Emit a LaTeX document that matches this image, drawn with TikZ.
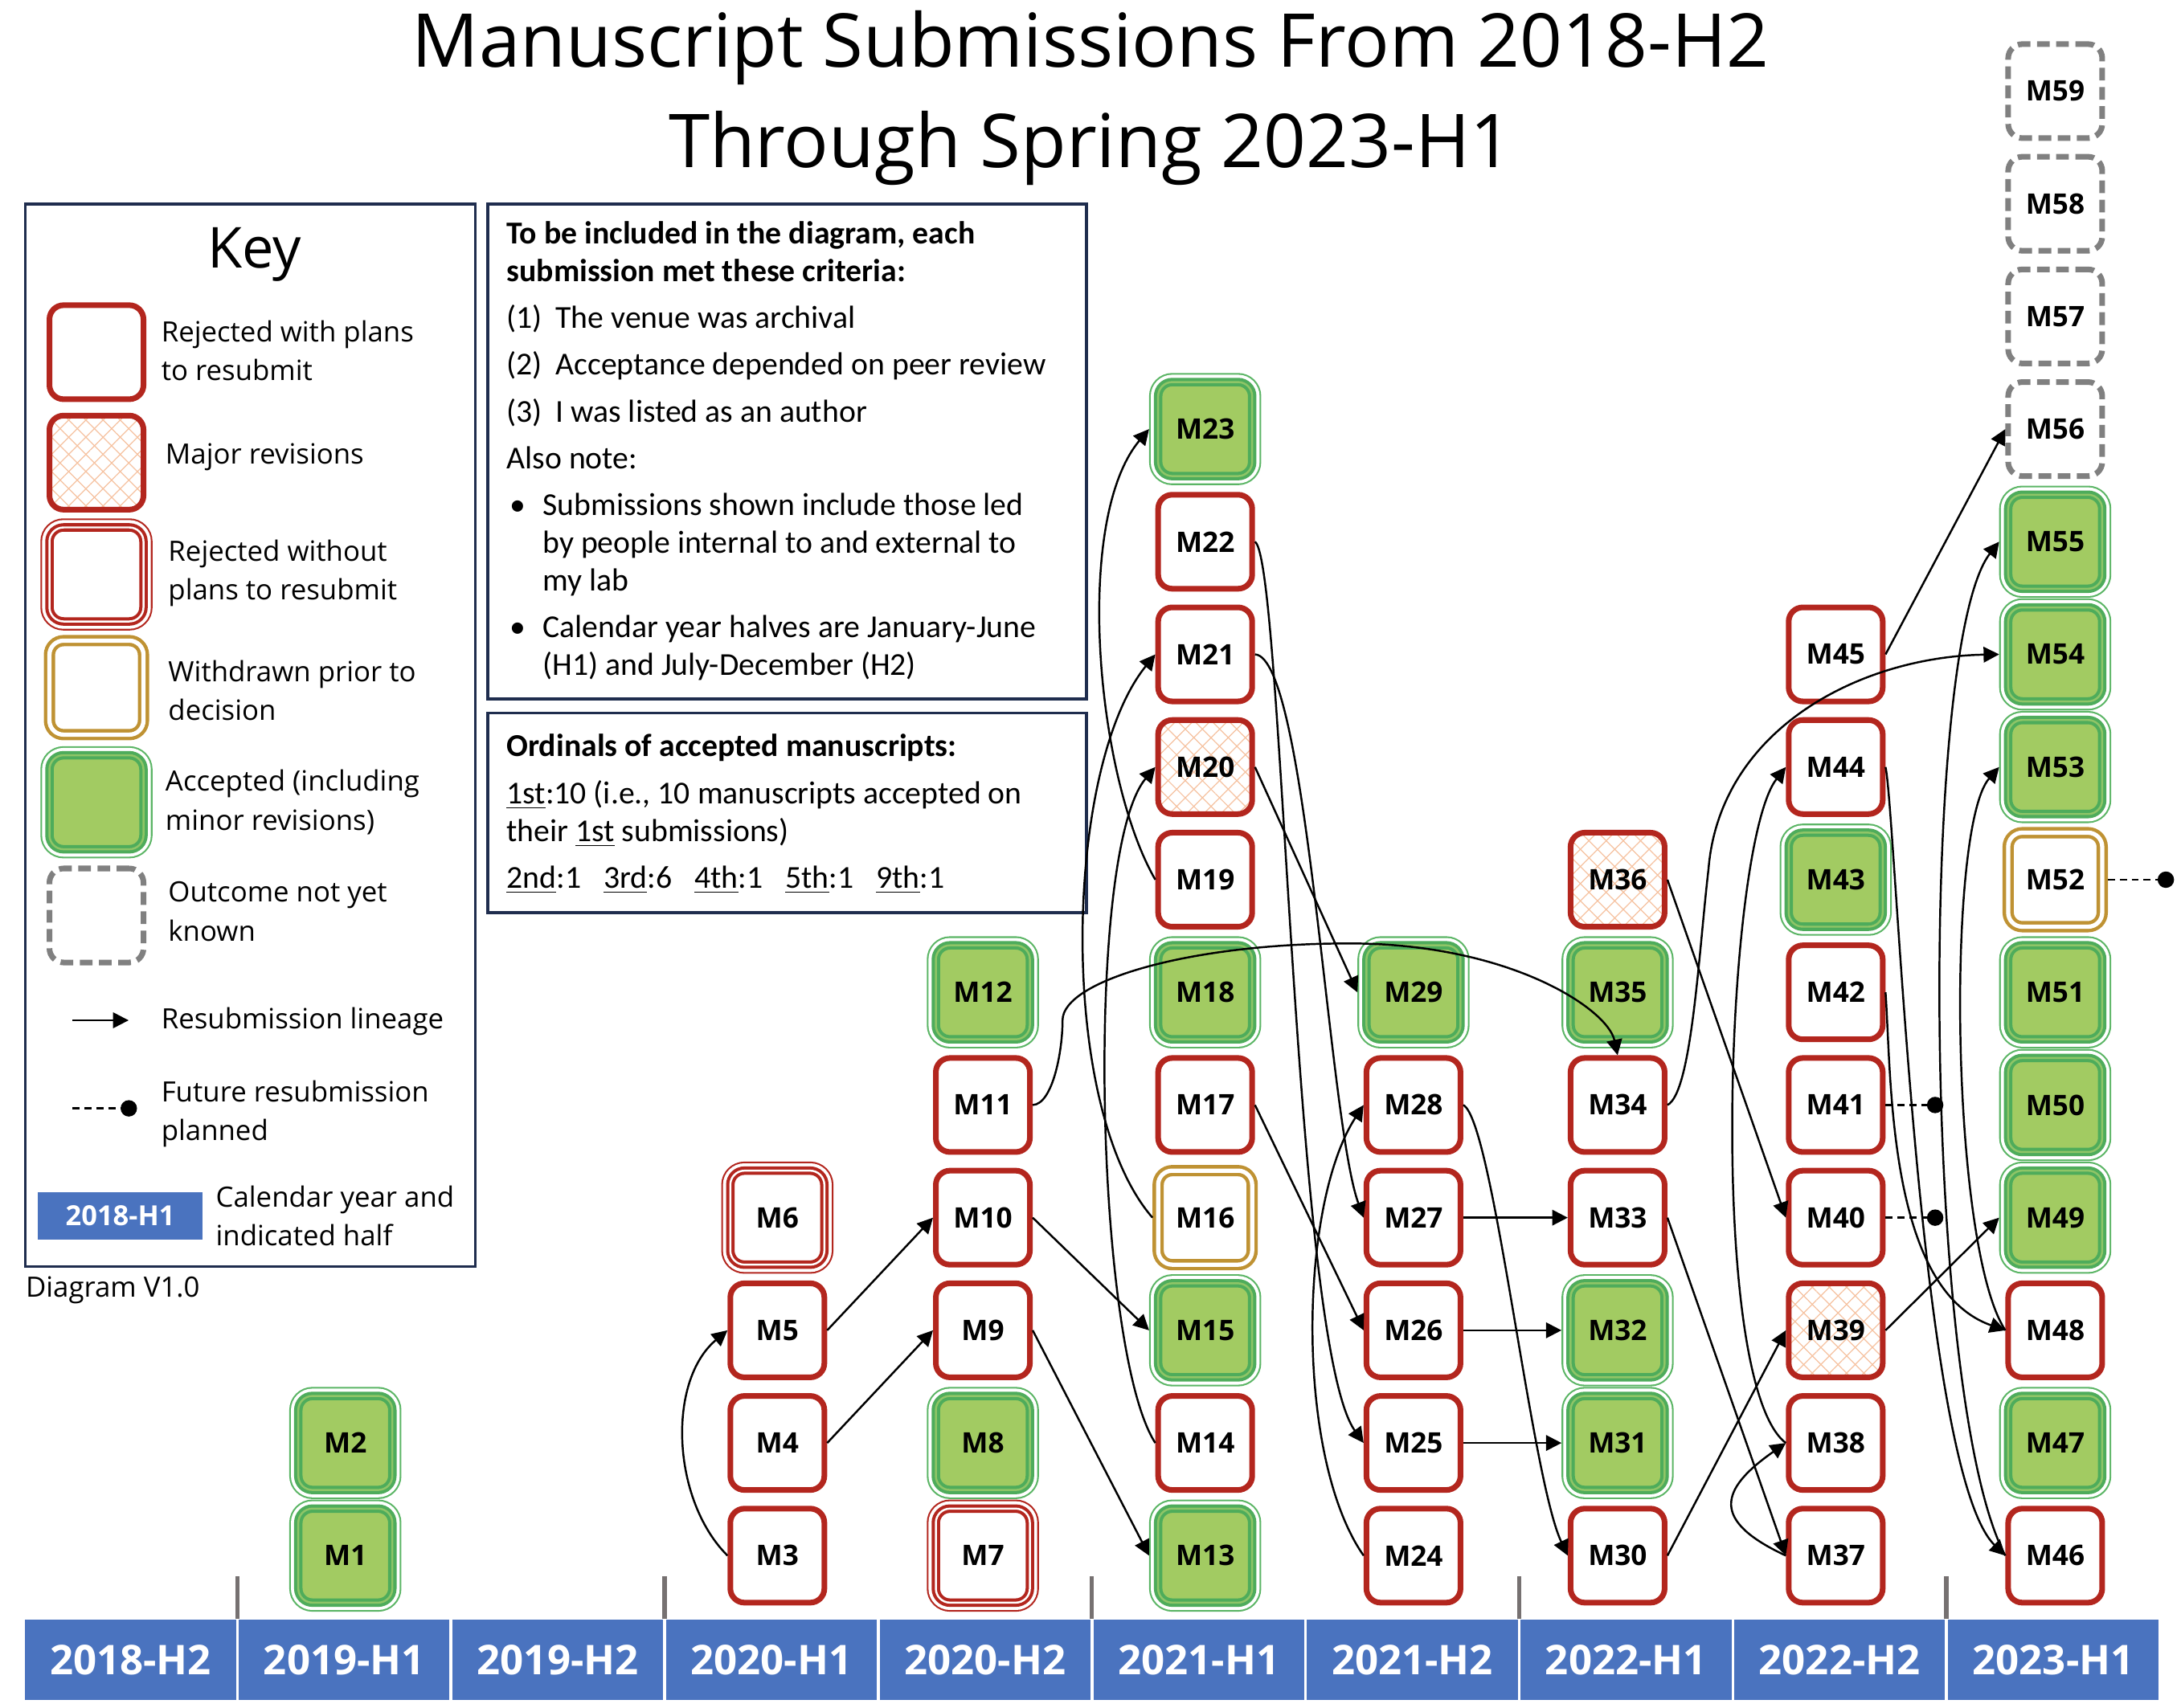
\documentclass[tikz,border=0pt]{standalone}
\usepackage{fontspec}
\setmainfont{Open Sans}
\newfontfamily\calib{Carlito}
\usetikzlibrary{arrows.meta,patterns.meta}
\definecolor{rejRed}{HTML}{B3261E}
\definecolor{accFill}{HTML}{A2CB62}
\definecolor{accBand}{HTML}{4EAC5B}
\definecolor{accEdge}{HTML}{5BB565}
\definecolor{accLine}{HTML}{8FC567}
\definecolor{wdGold}{HTML}{BF9233}
\definecolor{unkGray}{HTML}{808080}
\definecolor{majPeach}{HTML}{F6C2A0}
\definecolor{panelNavy}{HTML}{1F2D4E}
\definecolor{halfBlue}{HTML}{4A73BF}
\definecolor{tickGray}{HTML}{767171}
\newcommand{\msfont}{\bfseries\fontsize{10}{12}\selectfont}
\newcommand{\keyfont}{\fontsize{9.9}{13.8}\selectfont}
\newcommand{\critfont}{\calib\fontsize{11.3}{13.3}\selectfont}
\newcommand{\halffont}{\bfseries\fontsize{14.5}{17}\selectfont}
\tikzset{
	ms/.style={rounded corners=5pt, minimum width=1.17cm, minimum height=1.17cm, inner sep=0pt, font=\msfont},
	rej/.style={ms, fill=white, draw=rejRed, line width=2pt, outer sep=1pt},
	maj/.style={ms, draw=rejRed, line width=2pt, outer sep=1pt,
		preaction={fill=white},
		preaction={pattern={Lines[angle=45,distance=4.3pt,line width=0.35pt]}, pattern color=majPeach},
		preaction={pattern={Lines[angle=-45,distance=4.3pt,line width=0.35pt]}, pattern color=majPeach}},
	rejno/.style={ms, fill=white, draw=rejRed, line width=3pt, outer sep=3.2pt,
		preaction={draw=rejRed, line width=6.4pt},
		preaction={draw=white, line width=5.2pt},
		postaction={draw=white, line width=0.7pt}},
	wd/.style={ms, fill=white, draw=wdGold, line width=4pt, outer sep=2pt,
		postaction={draw=white, line width=1.5pt}},
	acc/.style={ms, fill=accFill, draw=accBand, line width=3pt, outer sep=3.2pt,
		preaction={draw=accEdge, line width=6.4pt},
		preaction={draw=white, line width=5.2pt},
		postaction={draw=accLine, line width=0.7pt}},
	unk/.style={ms, fill=white, draw=unkGray, line width=2pt, outer sep=1pt, dash pattern=on 4.5pt off 2.3pt},
	arr/.style={-{Triangle[length=5.5pt,width=5.5pt]}, line width=0.7pt},
	future/.style={dash pattern=on 2.5pt off 1.7pt, line width=0.7pt, -{Circle[length=5.8pt]}},
	half/.style={fill=halfBlue, draw=white, line width=1pt, text=white, inner sep=0pt, outer sep=0pt},
	tick/.style={draw=tickGray, line width=1.5pt},
	panel/.style={draw=panelNavy, line width=1pt, inner sep=0pt, anchor=north west},
	keytxt/.style={anchor=west, align=left, inner sep=0pt, font=\keyfont}
}
\begin{document}
\begin{tikzpicture}[x=0.017397cm, y=0.017397cm]
\useasboundingbox (0,0) rectangle (1560,1222);

% title
\node[align=center, font=\fontsize{26.3}{35.6}\selectfont] (title) at (780,1152) {Manuscript Submissions From 2018-H2\\Through Spring 2023-H1};

% key
\node[panel, minimum width=5.602cm, minimum height=13.222cm] (keybox) at (17,1077) {};
\node[font=\fontsize{20}{24}\selectfont] (keyhead) at (182,1040) {Key};
\node[rej] (k1) at (69,970) {};
\node[keytxt] (k1t) at (115,971) {Rejected with plans\\to resubmit};
\node[maj] (k2) at (69,891) {};
\node[keytxt] (k2t) at (118,895) {Major revisions};
\node[rejno] (k3) at (69,811) {};
\node[keytxt] (k3t) at (120,812) {Rejected without\\plans to resubmit};
\node[wd] (k4) at (69,730) {};
\node[keytxt] (k4t) at (120,728) {Withdrawn prior to\\decision};
\node[acc] (k5) at (69,648) {};
\node[keytxt] (k5t) at (118,648) {Accepted (including\\minor revisions)};
\node[unk] (k6) at (69,567) {};
\node[keytxt] (k6t) at (120,570) {Outcome not yet\\known};
\coordinate (la1) at (52,492);
\coordinate (la2) at (92,492);
\draw[arr] (la1) -- (la2);
\node[keytxt] (k7t) at (115,491) {Resubmission lineage};
\coordinate (lf1) at (52,429);
\coordinate (lf2) at (98,429);
\draw[future] (lf1) -- (lf2);
\node[keytxt] (k8t) at (115,425) {Future resubmission\\planned};
\node[half, minimum width=2.088cm, minimum height=0.626cm, font=\bfseries\fontsize{9.8}{12}\selectfont] (khalf) at (86,352) {2018-H1};
\node[keytxt] (k9t) at (154,352) {Calendar year and\\indicated half};
\node[anchor=west, inner sep=0pt, font=\keyfont] (version) at (18,299) {Diagram V1.0};

% criteria
\node[panel, minimum width=7.446cm, minimum height=6.158cm] (critbox) at (348,1077) {};
\node[anchor=north west, align=left, inner sep=0pt, font=\critfont] (crittext) at (362,1064) {%
	\textbf{To be included in the diagram, each}\\
	\textbf{submission met these criteria:}\\[3.3pt]
	\makebox[0.61cm][l]{(1)}The venue was archival\\[3.3pt]
	\makebox[0.61cm][l]{(2)}Acceptance depended on peer review\\[3.3pt]
	\makebox[0.61cm][l]{(3)}I was listed as an author\\[3.3pt]
	Also note:\\[3.3pt]
	\hspace*{0.04cm}\makebox[0.41cm][l]{\textbullet}Submissions shown include those led\\
	\hspace*{0.45cm}by people internal to and external to\\
	\hspace*{0.45cm}my lab\\[3.3pt]
	\hspace*{0.04cm}\makebox[0.41cm][l]{\textbullet}Calendar year halves are January-June\\
	\hspace*{0.45cm}(H1) and July-December (H2)};

% ordinals
\node[panel, minimum width=7.446cm, minimum height=2.488cm] (ordbox) at (348,713) {};
\node[anchor=north west, align=left, inner sep=0pt, font=\critfont] (ordtext) at (362,697) {%
	\textbf{Ordinals of accepted manuscripts:}\\[3.3pt]
	\underline{1st}:10 (i.e., 10 manuscripts accepted on\\
	their \underline{1st} submissions)\\[3.3pt]
	\underline{2nd}:1\hspace{0.28cm}\underline{3rd}:6\hspace{0.28cm}\underline{4th}:1\hspace{0.28cm}\underline{5th}:1\hspace{0.28cm}\underline{9th}:1};

% timeline
\node[half, minimum width=2.658cm, minimum height=1.026cm, font=\halffont] (y18b) at (93.4,34.5) {2018-H2};
\node[half, minimum width=2.658cm, minimum height=1.026cm, font=\halffont] (y19a) at (246.2,34.5) {2019-H1};
\node[half, minimum width=2.658cm, minimum height=1.026cm, font=\halffont] (y19b) at (399,34.5) {2019-H2};
\node[half, minimum width=2.658cm, minimum height=1.026cm, font=\halffont] (y20a) at (551.8,34.5) {2020-H1};
\node[half, minimum width=2.658cm, minimum height=1.026cm, font=\halffont] (y20b) at (704.6,34.5) {2020-H2};
\node[half, minimum width=2.658cm, minimum height=1.026cm, font=\halffont] (y21a) at (857.4,34.5) {2021-H1};
\node[half, minimum width=2.658cm, minimum height=1.026cm, font=\halffont] (y21b) at (1010.2,34.5) {2021-H2};
\node[half, minimum width=2.658cm, minimum height=1.026cm, font=\halffont] (y22a) at (1163,34.5) {2022-H1};
\node[half, minimum width=2.658cm, minimum height=1.026cm, font=\halffont] (y22b) at (1315.8,34.5) {2022-H2};
\node[half, minimum width=2.658cm, minimum height=1.026cm, font=\halffont] (y23a) at (1468.6,34.5) {2023-H1};
\draw[tick] (y19a.north west) -- ++(0,30);
\draw[tick] (y20a.north west) -- ++(0,30);
\draw[tick] (y21a.north west) -- ++(0,30);
\draw[tick] (y22a.north west) -- ++(0,30);
\draw[tick] (y23a.north west) -- ++(0,30);

% 2019-H1
\node[acc] (m1) at (247,109) {M1};
\node[acc] (m2) at (247,189.6) {M2};
% 2020-H1
\node[rej] (m3) at (556,109) {M3};
\node[rej] (m4) at (556,189.6) {M4};
\node[rej] (m5) at (556,270.2) {M5};
\node[rejno] (m6) at (556,350.8) {M6};
% 2020-H2
\node[rejno] (m7) at (703,109) {M7};
\node[acc] (m8) at (703,189.6) {M8};
\node[rej] (m9) at (703,270.2) {M9};
\node[rej] (m10) at (703,350.8) {M10};
\node[rej] (m11) at (703,431.4) {M11};
\node[acc] (m12) at (703,512) {M12};
% 2021-H1
\node[acc] (m13) at (862,109) {M13};
\node[rej] (m14) at (862,189.6) {M14};
\node[acc] (m15) at (862,270.2) {M15};
\node[wd] (m16) at (862,350.8) {M16};
\node[rej] (m17) at (862,431.4) {M17};
\node[acc] (m18) at (862,512) {M18};
\node[rej] (m19) at (862,592.6) {M19};
\node[maj] (m20) at (862,673.2) {M20};
\node[rej] (m21) at (862,753.8) {M21};
\node[rej] (m22) at (862,834.4) {M22};
\node[acc] (m23) at (862,915) {M23};
% 2021-H2
\node[rej] (m24) at (1011,109) {M24};
\node[rej] (m25) at (1011,189.6) {M25};
\node[rej] (m26) at (1011,270.2) {M26};
\node[rej] (m27) at (1011,350.8) {M27};
\node[rej] (m28) at (1011,431.4) {M28};
\node[acc] (m29) at (1011,512) {M29};
% 2022-H1
\node[rej] (m30) at (1157,109) {M30};
\node[acc] (m31) at (1157,189.6) {M31};
\node[acc] (m32) at (1157,270.2) {M32};
\node[rej] (m33) at (1157,350.8) {M33};
\node[rej] (m34) at (1157,431.4) {M34};
\node[acc] (m35) at (1157,512) {M35};
\node[maj] (m36) at (1157,592.6) {M36};
% 2022-H2
\node[rej] (m37) at (1313,109) {M37};
\node[rej] (m38) at (1313,189.6) {M38};
\node[maj] (m39) at (1313,270.2) {M39};
\node[rej] (m40) at (1313,350.8) {M40};
\node[rej] (m41) at (1313,431.4) {M41};
\node[rej] (m42) at (1313,512) {M42};
\node[acc] (m43) at (1313,592.6) {M43};
\node[rej] (m44) at (1313,673.2) {M44};
\node[rej] (m45) at (1313,753.8) {M45};
% 2023-H1
\node[rej] (m46) at (1470,109) {M46};
\node[acc] (m47) at (1470,189.6) {M47};
\node[rej] (m48) at (1470,270.2) {M48};
\node[acc] (m49) at (1470,350.8) {M49};
\node[acc] (m50) at (1470,431.4) {M50};
\node[acc] (m51) at (1470,512) {M51};
\node[wd] (m52) at (1470,592.6) {M52};
\node[acc] (m53) at (1470,673.2) {M53};
\node[acc] (m54) at (1470,753.8) {M54};
\node[acc] (m55) at (1470,834.4) {M55};
\node[unk] (m56) at (1470,915) {M56};
\node[unk] (m57) at (1470,995.6) {M57};
\node[unk] (m58) at (1470,1076.2) {M58};
\node[unk] (m59) at (1470,1156.8) {M59};

% lineage, straight
\draw[arr] (m4.east) -- (m9.west);
\draw[arr] (m5.east) -- (m10.west);
\draw[arr] (m9.east) -- (m13.west);
\draw[arr] (m10.east) -- (m15.west);
\draw[arr] (m17.east) -- (m26.west);
\draw[arr] (m20.east) -- (m29.west);
\draw[arr] (m25.east) -- (m31.west);
\draw[arr] (m26.east) -- (m32.west);
\draw[arr] (m27.east) -- (m33.west);
\draw[arr] (m30.east) -- (m39.west);
\draw[arr] (m33.east) -- (m37.west);
\draw[arr] (m36.east) -- (m40.west);
\draw[arr] (m39.east) -- (m49.west);
\draw[arr] (m45.east) -- (m56.west);
% lineage, loops on the left
\draw[arr] (m3.west) to[out=135,in=220,looseness=0.9] (m5.west);
\draw[arr] (m14.west) to[out=123,in=230,looseness=0.42] (m20.west);
\draw[arr] (m16.west) to[out=131,in=231,looseness=0.66] (m21.west);
\draw[arr] (m19.west) to[out=120,in=230,looseness=0.67] (m23.west);
\draw[arr] (m24.west) to[out=125,in=237,looseness=0.68] (m28.west);
\draw[arr] (m37.west) to[out=155,in=215,looseness=1.87] (m38.west);
\draw[arr] (m38.west) to[out=143,in=232,looseness=0.375] (m44.west);
\draw[arr] (m46.west) .. controls (1375,220) and (1372,760) .. (m55.west);
\draw[arr] (m48.west) .. controls (1395,330) and (1392,630) .. (m53.west);
% lineage, long curves
\draw[arr] (m11.east) .. controls (753,432) and (760,470) .. (760,492)
	.. controls (760,520) and (850,547) .. (965,547)
	.. controls (1080,547) and (1150,500) .. (m34.north);
\draw[arr] (m21.east) .. controls (935,752) and (950,420) .. (m27.west);
\draw[arr] (m22.east) .. controls (918,820) and (925,260) .. (m25.west);
\draw[arr] (m28.east) .. controls (1068,420) and (1095,165) .. (m30.west);
\draw[arr] (m34.east) .. controls (1210,440) and (1215,540) .. (1222,600)
	.. controls (1230,700) and (1330,752) .. (m54.west);
\draw[arr] (m42.east) .. controls (1353,450) and (1350,300) .. (m48.west);
\draw[arr] (m44.east) .. controls (1356,640) and (1372,170) .. (m46.west);
% planned resubmissions
\coordinate (f40) at (1390,350.8);
\coordinate (f41) at (1390,431.4);
\coordinate (f52) at (1555,592.6);
\draw[future] (m40.east) -- (f40);
\draw[future] (m41.east) -- (f41);
\draw[future] (m52.east) -- (f52);
\end{tikzpicture}
\end{document}
